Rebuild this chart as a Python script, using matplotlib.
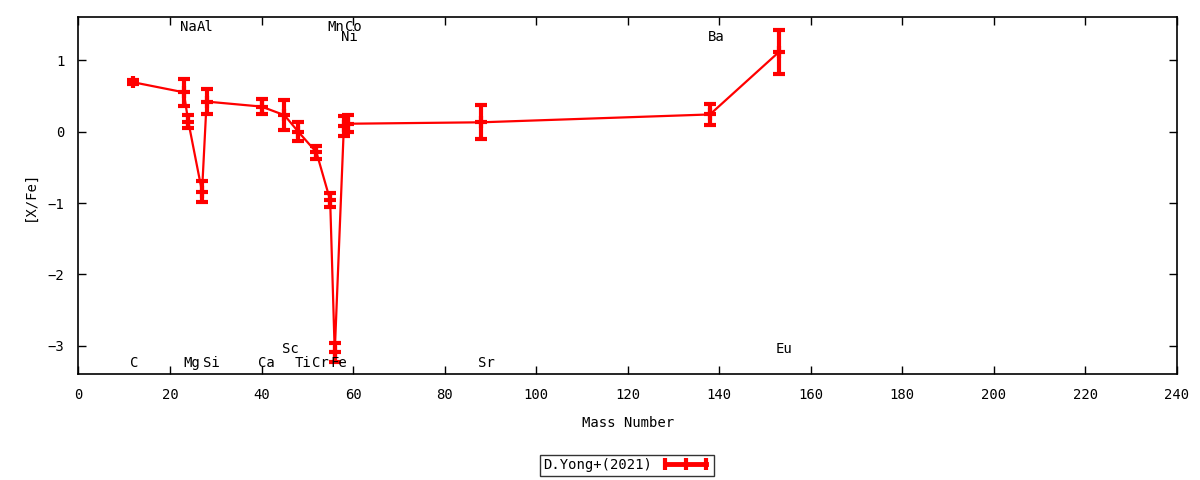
import matplotlib
matplotlib.use("Agg")
import matplotlib.pyplot as plt
from matplotlib.lines import Line2D

# ---- data ----
elements = ['C', 'Na', 'Mg', 'Al', 'Si', 'Ca', 'Sc', 'Ti', 'Cr', 'Mn', 'Fe', 'Ni', 'Co', 'Sr', 'Ba', 'Eu']
mass = [12, 23, 24, 27, 28, 40, 45, 48, 52, 55, 56, 58, 59, 88, 138, 153]
xfe = [0.69, 0.55, 0.14, -0.84, 0.42, 0.35, 0.23, 0.00, -0.29, -0.96, -3.09, 0.08, 0.11, 0.13, 0.24, 1.11]
err = [0.03, 0.19, 0.09, 0.15, 0.17, 0.11, 0.21, 0.13, 0.09, 0.10, 0.13, 0.14, 0.12, 0.24, 0.15, 0.31]

# element label positions (data coords)
label_x = [12.1, 24.0, 24.8, 27.7, 29.0, 41.1, 46.2, 49.0, 52.8, 56.3, 56.8, 59.1, 60.0, 89.1, 139.3, 154.2]
label_y = [-3.24, 1.47, -3.24, 1.47, -3.24, -3.24, -3.05, -3.24, -3.24, 1.47, -3.24, 1.32, 1.47, -3.24, 1.32, -3.05]

legend_label = 'D.Yong+(2021)'

plt.rcParams['font.family'] = ['DejaVu Sans Mono', 'DejaVu Sans']
fs = 10

fig = plt.figure(figsize=(12, 4.8), dpi=100)
ax = fig.add_axes([0.0654, 0.2198, 0.9152, 0.7442])

ax.errorbar(mass, xfe, yerr=err, color='#ff0000', lw=1.6, elinewidth=3,
            capsize=4.5, capthick=3, marker='+', markersize=9, mew=3)

for e, lx, ly in zip(elements, label_x, label_y):
    ax.text(lx, ly, e, ha='center', va='center', fontsize=fs, color='black')

ax.set_xlim(0, 240)
ax.set_ylim(-3.4, 1.6)
ax.set_xticks(range(0, 241, 20))
ax.set_yticks([-3, -2, -1, 0, 1])
ax.tick_params(direction='in', length=6, width=1, top=True, right=True,
               labelsize=fs, pad=10)
for s in ax.spines.values():
    s.set_linewidth(1.2)

ax.set_xlabel('Mass Number', fontsize=fs, labelpad=10)
ax.set_ylabel('[X/Fe]', fontsize=fs, labelpad=8)

handle = Line2D([], [], color='#ff0000', lw=3.5, marker='|', markersize=9, mew=3)
leg = fig.legend([handle], [legend_label], loc='center', bbox_to_anchor=(0.5225, 0.031),
                 markerfirst=False, numpoints=3,
                 fontsize=fs, frameon=True, fancybox=False, edgecolor='black',
                 handlelength=3.6, borderpad=0.25, handletextpad=0.6, borderaxespad=0)
leg.get_frame().set_linewidth(1.0)

fig.savefig('out.png', dpi=100)
